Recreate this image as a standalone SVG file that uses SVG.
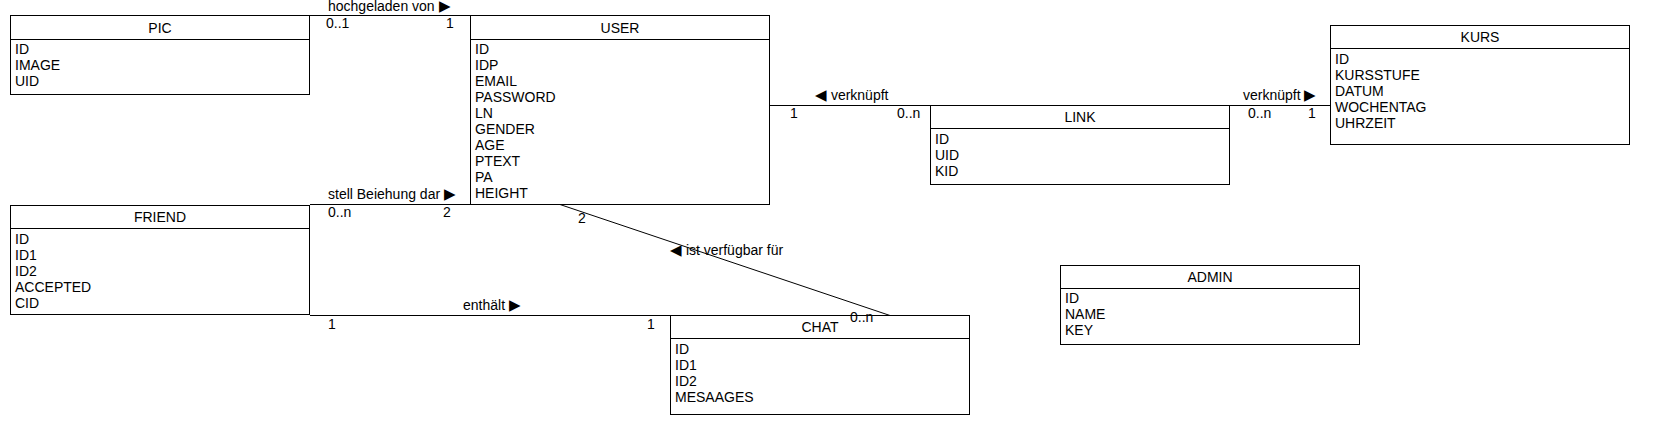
<svg xmlns="http://www.w3.org/2000/svg" width="1673" height="446" viewBox="0 0 1673 446">
<style>
text{font-family:"Liberation Sans",Arial,sans-serif;font-size:14px;fill:#000}
.box{fill:#fff;stroke:#000;stroke-width:1}
.hd{text-anchor:middle}
.ln{fill:none;stroke:#000;stroke-width:1}
.tri{font-size:15px}
</style>
<rect x="0" y="0" width="1673" height="446" fill="#fff"/>
<g id="PIC">
<rect class="box" x="10.5" y="15.5" width="299" height="79"/>
<line class="ln" x1="10.5" y1="39.5" x2="309.5" y2="39.5"/>
<text class="hd" x="160" y="32.5">PIC</text>
<text x="15" y="53.5">ID</text>
<text x="15" y="69.5">IMAGE</text>
<text x="15" y="85.5">UID</text>
</g>
<g id="USER">
<rect class="box" x="470.5" y="15.5" width="299" height="189"/>
<line class="ln" x1="470.5" y1="39.5" x2="769.5" y2="39.5"/>
<text class="hd" x="620" y="32.5">USER</text>
<text x="475" y="53.5">ID</text>
<text x="475" y="69.5">IDP</text>
<text x="475" y="85.5">EMAIL</text>
<text x="475" y="101.5">PASSWORD</text>
<text x="475" y="117.5">LN</text>
<text x="475" y="133.5">GENDER</text>
<text x="475" y="149.5">AGE</text>
<text x="475" y="165.5">PTEXT</text>
<text x="475" y="181.5">PA</text>
<text x="475" y="197.5">HEIGHT</text>
</g>
<g id="FRIEND">
<rect class="box" x="10.5" y="205.5" width="299" height="109"/>
<line class="ln" x1="10.5" y1="228.5" x2="309.5" y2="228.5"/>
<text class="hd" x="160" y="222">FRIEND</text>
<text x="15" y="243.5">ID</text>
<text x="15" y="259.5">ID1</text>
<text x="15" y="275.5">ID2</text>
<text x="15" y="291.5">ACCEPTED</text>
<text x="15" y="307.5">CID</text>
</g>
<g id="LINK">
<rect class="box" x="930.5" y="105.5" width="299" height="79"/>
<line class="ln" x1="930.5" y1="128.5" x2="1229.5" y2="128.5"/>
<text class="hd" x="1080" y="122">LINK</text>
<text x="935" y="143.5">ID</text>
<text x="935" y="159.5">UID</text>
<text x="935" y="175.5">KID</text>
</g>
<g id="KURS">
<rect class="box" x="1330.5" y="25.5" width="299" height="119"/>
<line class="ln" x1="1330.5" y1="48.5" x2="1629.5" y2="48.5"/>
<text class="hd" x="1480" y="42">KURS</text>
<text x="1335" y="63.5">ID</text>
<text x="1335" y="79.5">KURSSTUFE</text>
<text x="1335" y="95.5">DATUM</text>
<text x="1335" y="111.5">WOCHENTAG</text>
<text x="1335" y="127.5">UHRZEIT</text>
</g>
<g id="CHAT">
<rect class="box" x="670.5" y="315.5" width="299" height="99"/>
<line class="ln" x1="670.5" y1="338.5" x2="969.5" y2="338.5"/>
<text class="hd" x="820" y="332">CHAT</text>
<text x="675" y="353.5">ID</text>
<text x="675" y="369.5">ID1</text>
<text x="675" y="385.5">ID2</text>
<text x="675" y="401.5">MESAAGES</text>
</g>
<g id="ADMIN">
<rect class="box" x="1060.5" y="265.5" width="299" height="79"/>
<line class="ln" x1="1060.5" y1="288.5" x2="1359.5" y2="288.5"/>
<text class="hd" x="1210" y="282">ADMIN</text>
<text x="1065" y="303">ID</text>
<text x="1065" y="319">NAME</text>
<text x="1065" y="335">KEY</text>
</g>
<g id="connectors">
<line class="ln" x1="310" y1="15.5" x2="470" y2="15.5"/>
<text x="328" y="11">hochgeladen von <tspan class="tri">▶</tspan></text>
<text x="326" y="28">0..1</text>
<text x="446" y="28">1</text>
<line class="ln" x1="310" y1="204.5" x2="470" y2="204.5"/>
<text x="328" y="199">stell Beiehung dar <tspan class="tri">▶</tspan></text>
<text x="328" y="217">0..n</text>
<text x="443" y="217">2</text>
<line class="ln" x1="770" y1="105.5" x2="930" y2="105.5"/>
<text x="815" y="100"><tspan class="tri">◀</tspan> verknüpft</text>
<text x="790" y="118">1</text>
<text x="897" y="118">0..n</text>
<line class="ln" x1="1230" y1="105.5" x2="1330" y2="105.5"/>
<text x="1243" y="100">verknüpft <tspan class="tri">▶</tspan></text>
<text x="1248" y="118">0..n</text>
<text x="1308" y="118">1</text>
<line class="ln" x1="310" y1="315.5" x2="670" y2="315.5"/>
<text x="463" y="310">enthält <tspan class="tri">▶</tspan></text>
<text x="328" y="329">1</text>
<text x="647" y="329">1</text>
<line class="ln" x1="560" y1="204.5" x2="890" y2="315.5"/>
<text x="578" y="223">2</text>
<text x="670" y="255"><tspan class="tri">◀</tspan> ist verfügbar für</text>
<text x="850" y="322">0..n</text>
</g>
</svg>
